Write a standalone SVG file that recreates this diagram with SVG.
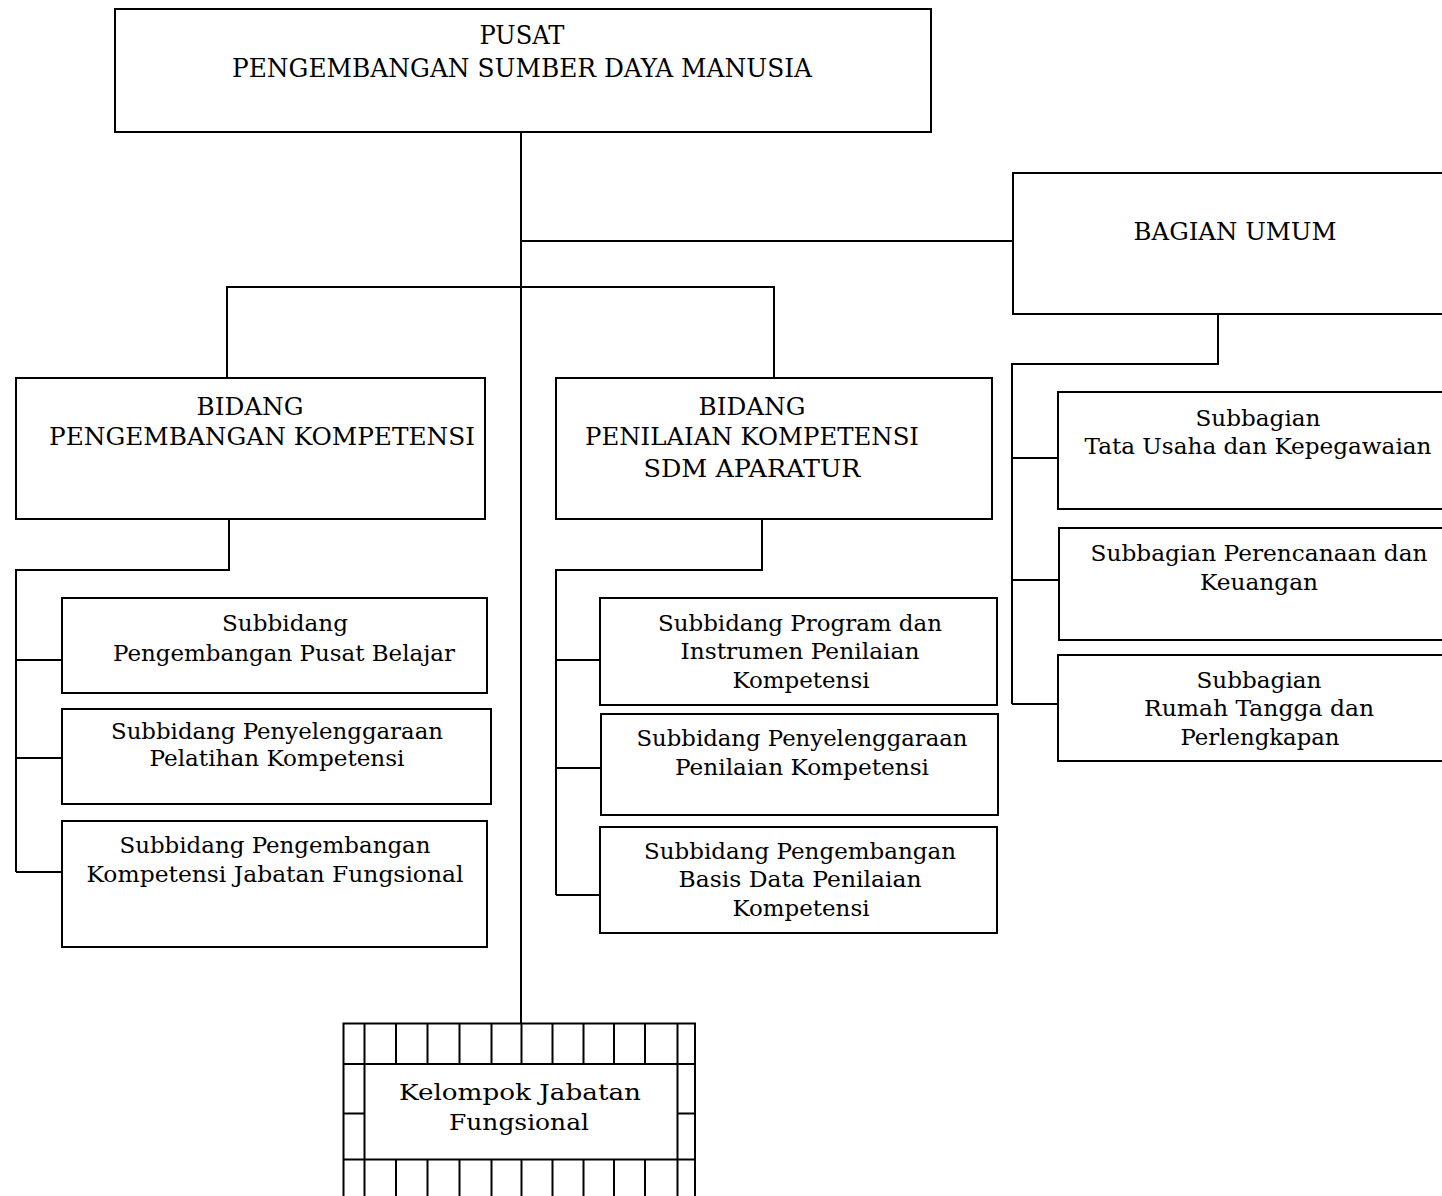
<svg xmlns="http://www.w3.org/2000/svg" width="1442" height="1196" viewBox="0 0 1442 1196">
  <style>
    .box { fill: #ffffff; stroke: #000000; stroke-width: 2; }
    .ln { fill: none; stroke: #000000; stroke-width: 2; }
    text { font-family: "DejaVu Serif", "Liberation Serif", serif; fill: #000000; text-anchor: middle; }
    .cap { font-size: 25px; }
    .big { font-size: 26px; }
    .sm { font-size: 23px; }
  </style>
  <rect width="1442" height="1196" fill="#ffffff"/>

  <!-- connectors -->
  <g id="connectors" class="ln">
    <path d="M521 132 V1024"/>
    <path d="M521 241 H1013"/>
    <path d="M227 378 V287 H774 V378"/>
    <!-- Bidang Pengembangan Kompetensi branch -->
    <path d="M229 519 V570 H16 V872"/>
    <path d="M16 660 H62 M16 758 H62 M16 872 H62"/>
    <!-- Bidang Penilaian Kompetensi branch -->
    <path d="M762 519 V570 H556 V895"/>
    <path d="M556 660 H600 M556 768 H601 M556 895 H600"/>
    <!-- Bagian Umum branch -->
    <path d="M1218 314 V364 H1012 V704"/>
    <path d="M1012 458 H1058 M1012 580 H1059 M1012 704 H1058"/>
  </g>

  <g id="pusat">
    <rect class="box" x="115" y="9" width="816" height="123"/>
    <text class="big" x="522" y="44" textLength="85" lengthAdjust="spacingAndGlyphs">PUSAT</text>
    <text class="big" x="522" y="77" textLength="580" lengthAdjust="spacingAndGlyphs">PENGEMBANGAN SUMBER DAYA MANUSIA</text>
  </g>

  <g id="bagian-umum">
    <rect class="box" x="1013" y="173" width="440" height="141"/>
    <text class="cap" x="1235" y="240" textLength="203" lengthAdjust="spacingAndGlyphs">BAGIAN UMUM</text>
  </g>

  <g id="bidang-pengembangan">
    <rect class="box" x="16" y="378" width="469" height="141"/>
    <text class="cap" x="250" y="415" textLength="107" lengthAdjust="spacingAndGlyphs">BIDANG</text>
    <text class="cap" x="262" y="445" textLength="426" lengthAdjust="spacingAndGlyphs">PENGEMBANGAN KOMPETENSI</text>
  </g>

  <g id="bidang-penilaian">
    <rect class="box" x="556" y="378" width="436" height="141"/>
    <text class="cap" x="752" y="415" textLength="107" lengthAdjust="spacingAndGlyphs">BIDANG</text>
    <text class="cap" x="752" y="445" textLength="334" lengthAdjust="spacingAndGlyphs">PENILAIAN KOMPETENSI</text>
    <text class="cap" x="752" y="477" textLength="217" lengthAdjust="spacingAndGlyphs">SDM APARATUR</text>
  </g>

  <g id="subbidang-pusat-belajar">
    <rect class="box" x="62" y="598" width="425" height="95"/>
    <text class="sm" x="285" y="631" textLength="126" lengthAdjust="spacingAndGlyphs">Subbidang</text>
    <text class="sm" x="284" y="661" textLength="342" lengthAdjust="spacingAndGlyphs">Pengembangan Pusat Belajar</text>
  </g>

  <g id="subbidang-pelatihan">
    <rect class="box" x="62" y="709" width="429" height="95"/>
    <text class="sm" x="277" y="739" textLength="332" lengthAdjust="spacingAndGlyphs">Subbidang Penyelenggaraan</text>
    <text class="sm" x="277" y="766" textLength="255" lengthAdjust="spacingAndGlyphs">Pelatihan Kompetensi</text>
  </g>

  <g id="subbidang-jabatan-fungsional">
    <rect class="box" x="62" y="821" width="425" height="126"/>
    <text class="sm" x="275" y="853" textLength="311" lengthAdjust="spacingAndGlyphs">Subbidang Pengembangan</text>
    <text class="sm" x="275" y="882" textLength="377" lengthAdjust="spacingAndGlyphs">Kompetensi Jabatan Fungsional</text>
  </g>

  <g id="subbidang-program">
    <rect class="box" x="600" y="598" width="397" height="107"/>
    <text class="sm" x="800" y="631" textLength="284" lengthAdjust="spacingAndGlyphs">Subbidang Program dan</text>
    <text class="sm" x="800" y="659" textLength="239" lengthAdjust="spacingAndGlyphs">Instrumen Penilaian</text>
    <text class="sm" x="801" y="688" textLength="137" lengthAdjust="spacingAndGlyphs">Kompetensi</text>
  </g>

  <g id="subbidang-penyelenggaraan-penilaian">
    <rect class="box" x="601" y="714" width="397" height="101"/>
    <text class="sm" x="802" y="746" textLength="331" lengthAdjust="spacingAndGlyphs">Subbidang Penyelenggaraan</text>
    <text class="sm" x="802" y="775" textLength="254" lengthAdjust="spacingAndGlyphs">Penilaian Kompetensi</text>
  </g>

  <g id="subbidang-basis-data">
    <rect class="box" x="600" y="827" width="397" height="106"/>
    <text class="sm" x="800" y="859" textLength="312" lengthAdjust="spacingAndGlyphs">Subbidang Pengembangan</text>
    <text class="sm" x="800" y="887" textLength="243" lengthAdjust="spacingAndGlyphs">Basis Data Penilaian</text>
    <text class="sm" x="801" y="916" textLength="137" lengthAdjust="spacingAndGlyphs">Kompetensi</text>
  </g>

  <g id="subbagian-tata-usaha">
    <rect class="box" x="1058" y="392" width="400" height="117"/>
    <text class="sm" x="1258" y="426" textLength="125" lengthAdjust="spacingAndGlyphs">Subbagian</text>
    <text class="sm" x="1258" y="454" textLength="347" lengthAdjust="spacingAndGlyphs">Tata Usaha dan Kepegawaian</text>
  </g>

  <g id="subbagian-perencanaan">
    <rect class="box" x="1059" y="528" width="400" height="112"/>
    <text class="sm" x="1259" y="561" textLength="337" lengthAdjust="spacingAndGlyphs">Subbagian Perencanaan dan</text>
    <text class="sm" x="1259" y="590" textLength="118" lengthAdjust="spacingAndGlyphs">Keuangan</text>
  </g>

  <g id="subbagian-rumah-tangga">
    <rect class="box" x="1058" y="655" width="400" height="106"/>
    <text class="sm" x="1259" y="688" textLength="125" lengthAdjust="spacingAndGlyphs">Subbagian</text>
    <text class="sm" x="1259" y="716" textLength="230" lengthAdjust="spacingAndGlyphs">Rumah Tangga dan</text>
    <text class="sm" x="1260" y="745" textLength="159" lengthAdjust="spacingAndGlyphs">Perlengkapan</text>
  </g>

  <!-- framed box with a border of cells -->
  <g id="kelompok-jabatan-fungsional">
    <rect class="box" x="343.5" y="1023.5" width="351.5" height="190"/>
    <g class="ln">
      <path d="M343.5 1064 H695 M343.5 1159.5 H695"/>
      <path d="M343.5 1113.5 H364.5 M677.5 1113.5 H695"/>
      <path d="M364.5 1023.5 V1200 M677.5 1023.5 V1200"/>
      <path d="M396 1023.5 V1064 M427.5 1023.5 V1064 M459.5 1023.5 V1064 M491.5 1023.5 V1064 M521.5 1023.5 V1064 M552.5 1023.5 V1064 M583.5 1023.5 V1064 M614 1023.5 V1064 M645 1023.5 V1064"/>
      <path d="M396 1159.5 V1200 M427.5 1159.5 V1200 M459.5 1159.5 V1200 M491.5 1159.5 V1200 M521.5 1159.5 V1200 M552.5 1159.5 V1200 M583.5 1159.5 V1200 M614 1159.5 V1200 M645 1159.5 V1200"/>
    </g>
    <text class="sm" x="520" y="1100" textLength="242" lengthAdjust="spacingAndGlyphs">Kelompok Jabatan</text>
    <text class="sm" x="519" y="1130" textLength="140" lengthAdjust="spacingAndGlyphs">Fungsional</text>
  </g>
</svg>
